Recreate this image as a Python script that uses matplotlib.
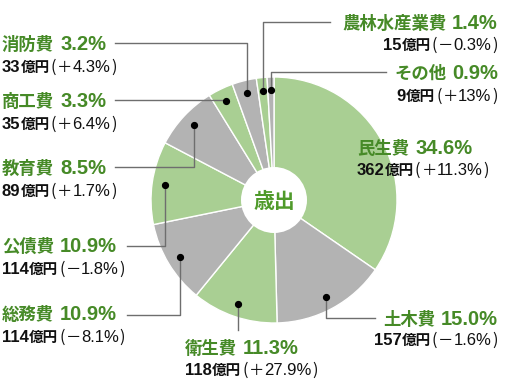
import matplotlib
matplotlib.use("Agg")
import matplotlib.pyplot as plt
from matplotlib.patches import Circle
import numpy as np

plt.rcParams['font.family'] = ['Noto Sans CJK JP', 'DejaVu Sans']

categories = ['民生費', '土木費', '衛生費', '総務費', '公債費', '教育費', '商工費', '消防費', '農林水産業費', 'その他']
shares = [34.6, 15.0, 11.3, 10.9, 10.9, 8.5, 3.3, 3.2, 1.4, 0.9]
amounts = [362, 157, 118, 114, 114, 89, 35, 33, 15, 9]
changes = [11.3, -1.6, 27.9, -8.1, -1.8, 1.7, 6.4, 4.3, -0.3, 13]
center_label = '歳出'

GREEN = '#a9cf93'
GRAY = '#b3b3b3'
TXT_GREEN = '#468a27'
CTR_GREEN = '#4f9a2a'
LINE = '#6e6e6e'
JP = ['Noto Sans CJK JP', 'DejaVu Sans']
LAT = ['Liberation Sans', 'Noto Sans CJK JP']

W, H = 510, 387
fig = plt.figure(figsize=(W / 100, H / 100), dpi=100)
ax = fig.add_axes([0, 0, 1, 1])
cx, cy, R = 274, 200, 123
colors = [GREEN if i % 2 == 0 else GRAY for i in range(len(shares))]
wedges, _ = ax.pie(shares, colors=colors, startangle=-90, counterclock=True,
                   center=(cx, cy), radius=R,
                   wedgeprops=dict(edgecolor='white', linewidth=1.0))
ax.set_xlim(0, W)
ax.set_ylim(H, 0)
ax.set_aspect('auto')
ax.axis('off')
ax.add_patch(Circle((cx, cy), 33, facecolor='white', edgecolor='none', zorder=3))
ax.text(cx, cy + 1, center_label, ha='center', va='center', fontsize=15,
        fontweight='bold', color=CTR_GREEN, zorder=4, family=JP)

renderer = fig.canvas.get_renderer()


def draw_runs(x, y, runs, ha='left'):
    items = []
    for r in runs:
        if isinstance(r, (int, float)):
            items.append((None, r))
            continue
        s, size, weight, color, fam = r
        t = ax.text(0, y, s, fontsize=size, fontweight=weight, color=color,
                    va='baseline', ha='left', zorder=5, family=fam)
        items.append((t, t.get_window_extent(renderer).width))
    total = sum(w for _, w in items)
    cur = x if ha == 'left' else x - total
    for t, w in items:
        if t is not None:
            t.set_x(cur)
        cur += w


# layout: (text x, align, title baseline, value baseline, leader y, leader end x)
layout = {
    '民生費': (357, 'left', 154, 175, None, None),
    '土木費': (498, 'right', 325, 345, 318, 375),
    '衛生費': (185, 'left', 354, 375, 330, None),
    '総務費': (2, 'left', 320, 342, 315, 127),
    '公債費': (2, 'left', 252, 274, 246, 127),
    '教育費': (2, 'left', 174, 196, 167, 115),
    '商工費': (2, 'left', 107, 129, 100, 115),
    '消防費': (2, 'left', 50, 72, 43, 115),
    '農林水産業費': (498, 'right', 29, 50, 22, 330),
    'その他': (498, 'right', 79, 101, 72, 386),
}

BLK = '#111111'
for i, (w, name) in enumerate(zip(wedges, categories)):
    x, ha, tb, vb, ly, lx = layout[name]
    mid = np.deg2rad((w.theta1 + w.theta2) / 2)
    dx, dy = cx + 110 * np.cos(mid), cy + 110 * np.sin(mid)
    if name != '民生費':
        ax.plot([dx], [dy], 'o', color='black', ms=4.2, zorder=6)
        if lx is None:
            ax.plot([dx, dx], [dy, ly], color=LINE, lw=1, zorder=5)
        else:
            ax.plot([dx, dx, lx], [dy, ly, ly], color=LINE, lw=1, zorder=5)
    draw_runs(x, tb, [(name, 12.5, 'bold', TXT_GREEN, JP), 6,
                      (f'{shares[i]:.1f}%', 14.5, 'bold', TXT_GREEN, LAT)], ha)
    sign = '＋' if changes[i] >= 0 else '－'
    draw_runs(x, vb, [(f'{amounts[i]}', 12, 'bold', BLK, LAT),
                      ('億円', 10.5, 'bold', BLK, JP), 1,
                      ('(', 11.5, 'normal', BLK, JP), 1,
                      (sign, 11, 'normal', BLK, JP),
                      (f'{abs(changes[i]):g}%', 12, 'normal', BLK, LAT), 1,
                      (')', 11.5, 'normal', BLK, JP)], ha)

fig.savefig('out.png', dpi=100)
